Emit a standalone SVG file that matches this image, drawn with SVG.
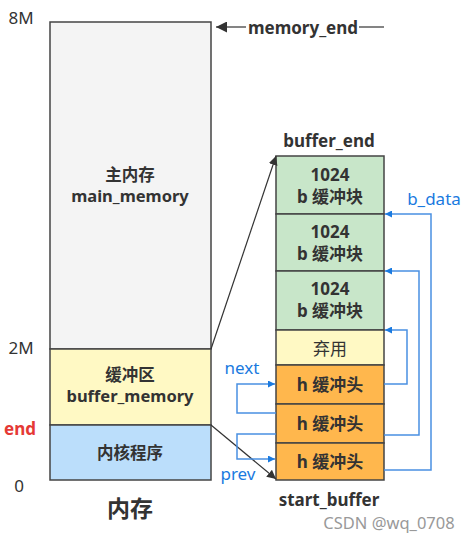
<svg xmlns="http://www.w3.org/2000/svg" width="470" height="539" viewBox="0 0 470 539">
<defs>
<style>
text{font-family:"Noto Sans","Noto Sans CJK SC",sans-serif;fill:#333;text-anchor:middle;dominant-baseline:central}
.b{font-weight:bold}
.box{stroke:#444;stroke-width:1.5}
.blue{fill:#1a7ae0}
.bl{fill:none;stroke:#4a90e2;stroke-width:1.5}
.bk{fill:none;stroke:#333;stroke-width:1.2}
.t{font-size:17px;font-weight:bold}
</style>
<marker id="ab" viewBox="0 0 10 10" refX="10" refY="5" markerWidth="7" markerHeight="7" markerUnits="userSpaceOnUse" orient="auto"><path d="M0,0L10,5L0,10z" fill="#1a7ae0"/></marker>
<marker id="ak" viewBox="0 0 10 10" refX="10" refY="5" markerWidth="9" markerHeight="9" markerUnits="userSpaceOnUse" orient="auto"><path d="M0,0L10,5L0,10z" fill="#333"/></marker>
<marker id="ak2" viewBox="0 0 10 10" refX="10" refY="5" markerWidth="14" markerHeight="11" markerUnits="userSpaceOnUse" orient="auto"><path d="M0,0L10,5L0,10z" fill="#333"/></marker>
</defs>
<rect width="470" height="539" fill="#fff"/>
<g id="labels">
<text x="21" y="17" font-size="17">8M</text>
<text x="21" y="347" font-size="17">2M</text>
<text x="20" y="428" font-size="17" class="b" style="fill:#e53935">end</text>
<text x="19" y="485" font-size="17">0</text>
<text x="130" y="508" font-size="23" class="b">内存</text>
<text x="303" y="27" class="t">memory_end</text>
<text x="329" y="140" class="t">buffer_end</text>
<text x="329" y="499" class="t">start_buffer</text>
<text x="389" y="522" font-size="16.5" style="fill:#999">CSDN @wq_0708</text>
<text x="434" y="198" font-size="17" class="blue">b_data</text>
<text x="242" y="367" font-size="17" class="blue">next</text>
<text x="238" y="473" font-size="17" class="blue">prev</text>
</g>
<g id="main_memory">
<rect class="box" x="50" y="22" width="161" height="327" fill="#f4f4f4"/>
<text x="130" y="174" font-size="16.5" class="b">主内存</text>
<text x="130" y="195" font-size="16.5" class="b">main_memory</text>
</g>
<g id="buffer_memory">
<rect class="box" x="50" y="349" width="161" height="76" fill="#fff9c4"/>
<text x="130" y="374" font-size="16.5" class="b">缓冲区</text>
<text x="130" y="395" font-size="16.5" class="b">buffer_memory</text>
</g>
<g id="kernel">
<rect class="box" x="50" y="425" width="161" height="55" fill="#bbdefb"/>
<text x="130" y="452" font-size="16.5" class="b">内核程序</text>
</g>
<g id="block1">
<rect class="box" x="276" y="156" width="108" height="58" fill="#c8e6c9"/>
<text x="330" y="174" class="t">1024</text>
<text x="330" y="196" class="t">b 缓冲块</text>
</g>
<g id="block2">
<rect class="box" x="276" y="214" width="108" height="57" fill="#c8e6c9"/>
<text x="330" y="231" class="t">1024</text>
<text x="330" y="253" class="t">b 缓冲块</text>
</g>
<g id="block3">
<rect class="box" x="276" y="271" width="108" height="59" fill="#c8e6c9"/>
<text x="330" y="288" class="t">1024</text>
<text x="330" y="310" class="t">b 缓冲块</text>
</g>
<g id="unused">
<rect class="box" x="276" y="330" width="108" height="35" fill="#fff9c4"/>
<text x="330" y="348" font-size="17">弃用</text>
</g>
<g id="head1">
<rect class="box" x="276" y="365" width="108" height="39" fill="#ffb74d"/>
<text x="330" y="384" class="t">h 缓冲头</text>
</g>
<g id="head2">
<rect class="box" x="276" y="404" width="108" height="39" fill="#ffb74d"/>
<text x="330" y="423" class="t">h 缓冲头</text>
</g>
<g id="head3">
<rect class="box" x="276" y="443" width="108" height="37" fill="#ffb74d"/>
<text x="330" y="461" class="t">h 缓冲头</text>
</g>
<g id="connectors">
<line class="bk" x1="246" y1="27" x2="216" y2="27" marker-end="url(#ak2)" stroke-width="2.5"/>
<line class="bk" x1="359" y1="27" x2="384" y2="27" stroke-width="2.5"/>
<line class="bk" x1="211" y1="349" x2="276" y2="156" marker-end="url(#ak)"/>
<line class="bk" x1="211" y1="425" x2="276" y2="479" marker-end="url(#ak)"/>
<polyline class="bl" points="384,384 407,384 407,330 385,330" marker-end="url(#ab)"/>
<polyline class="bl" points="384,435 419,435 419,271 385,271" marker-end="url(#ab)"/>
<polyline class="bl" points="384,470 431,470 431,214 385,214" marker-end="url(#ab)"/>
<polyline class="bl" points="276,413 237,413 237,384 275,384" marker-end="url(#ab)"/>
<polyline class="bl" points="276,434 237,434 237,459 275,459" marker-end="url(#ab)"/>
</g>
</svg>
